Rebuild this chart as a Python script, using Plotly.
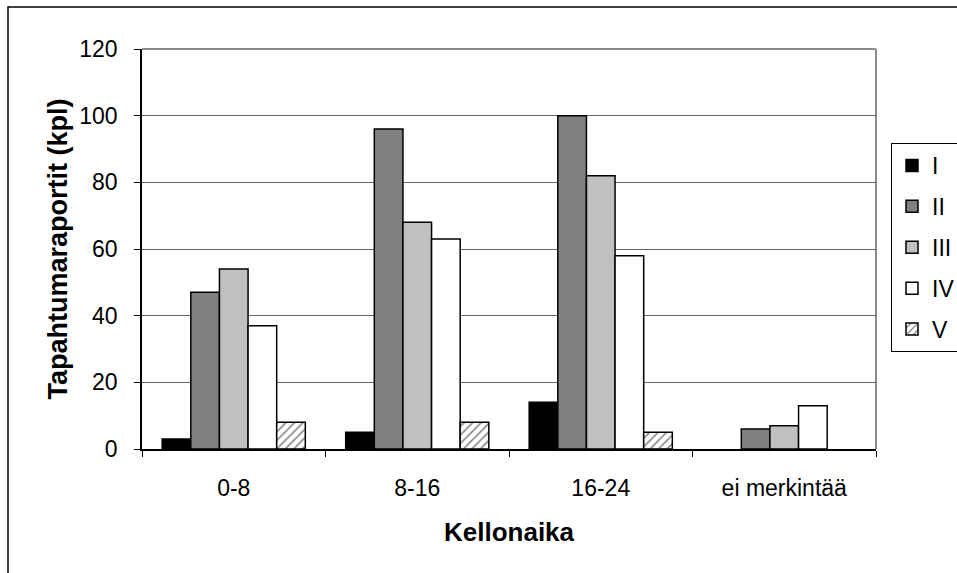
import plotly.graph_objects as go

# Incident reports by time of day and severity class
categories = ["0-8", "8-16", "16-24", "ei merkintää"]
series_names = ["I", "II", "III", "IV", "V"]
values_I = [3, 5, 14, 0]
values_II = [47, 96, 100, 6]
values_III = [54, 68, 82, 7]
values_IV = [37, 63, 58, 13]
values_V = [8, 8, 5, 0]
y_ticks = [0, 20, 40, 60, 80, 100, 120]

series_values = [values_I, values_II, values_III, values_IV, values_V]
fill_colors = ["#000000", "#808080", "#c0c0c0", "#ffffff", "#ffffff"]

W, H = 957, 573
L, R, T, B = 142, 81, 49, 124
FONT = "Liberation Sans, Arial, sans-serif"

fig = go.Figure()
for name, vals, col in zip(series_names, series_values, fill_colors):
    # empty bars get no outline so nothing is drawn for them
    outline_w = [1.5 if v > 0 else 0 for v in vals]
    marker = dict(color=col, line=dict(color="#000000", width=outline_w))
    if name == "V":
        marker["pattern"] = dict(shape="/", fgcolor="#000000", bgcolor="#ffffff",
                                 size=6, solidity=0.25)
    fig.add_trace(go.Bar(x=categories, y=vals, name=name, marker=marker,
                         legendgroup=name))


def px_x(p):
    return (p - L) / (W - L - R)


def px_y(p):
    return (H - B - p) / (H - T - B)


shapes = [
    # plot area frame (top and right edges)
    dict(type="line", xref="paper", yref="paper", x0=0, x1=1, y0=1, y1=1,
         line=dict(color="#8c8c8c", width=2), layer="below"),
    dict(type="line", xref="paper", yref="paper", x0=1, x1=1, y0=0, y1=1,
         line=dict(color="#8c8c8c", width=2), layer="below"),
    # outer chart frame
    dict(type="rect", xref="paper", yref="paper",
         x0=px_x(8), x1=px_x(W + 10), y0=px_y(H + 10), y1=px_y(7),
         line=dict(color="#000000", width=1.5)),
]

fig.update_layout(
    width=W, height=H,
    margin=dict(l=L, r=R, t=T, b=B, autoexpand=False),
    paper_bgcolor="#ffffff", plot_bgcolor="#ffffff",
    font=dict(family=FONT, size=23, color="#000000"),
    barmode="group", bargap=0.22, bargroupgap=0,
    showlegend=True,
    legend=dict(x=px_x(891), xanchor="left", y=px_y(143), yanchor="top",
                bordercolor="#000000", borderwidth=1, bgcolor="#ffffff",
                tracegroupgap=8, itemwidth=30,
                font=dict(family=FONT, size=23)),
    shapes=shapes,
    xaxis=dict(
        type="category", showline=True, linecolor="#000000", linewidth=1.5,
        ticks="outside", tickson="boundaries", ticklen=6, tickcolor="#000000",
        tickfont=dict(size=23), ticklabelstandoff=18,
        title=dict(text="<b>Kellonaika</b>", font=dict(size=26), standoff=22),
        showgrid=False, zeroline=False,
    ),
    yaxis=dict(
        range=[0, 120], tickvals=y_ticks, showline=True, linecolor="#000000",
        linewidth=1.5, ticks="outside", ticklen=6, tickcolor="#000000",
        tickfont=dict(size=23), ticklabelstandoff=12,
        showgrid=True, gridcolor="#666666", gridwidth=1, zeroline=False,
        title=dict(text="<b>Tapahtumaraportit (kpl)</b>", font=dict(size=27),
                   standoff=4),
    ),
)

fig.write_html("out.html")
